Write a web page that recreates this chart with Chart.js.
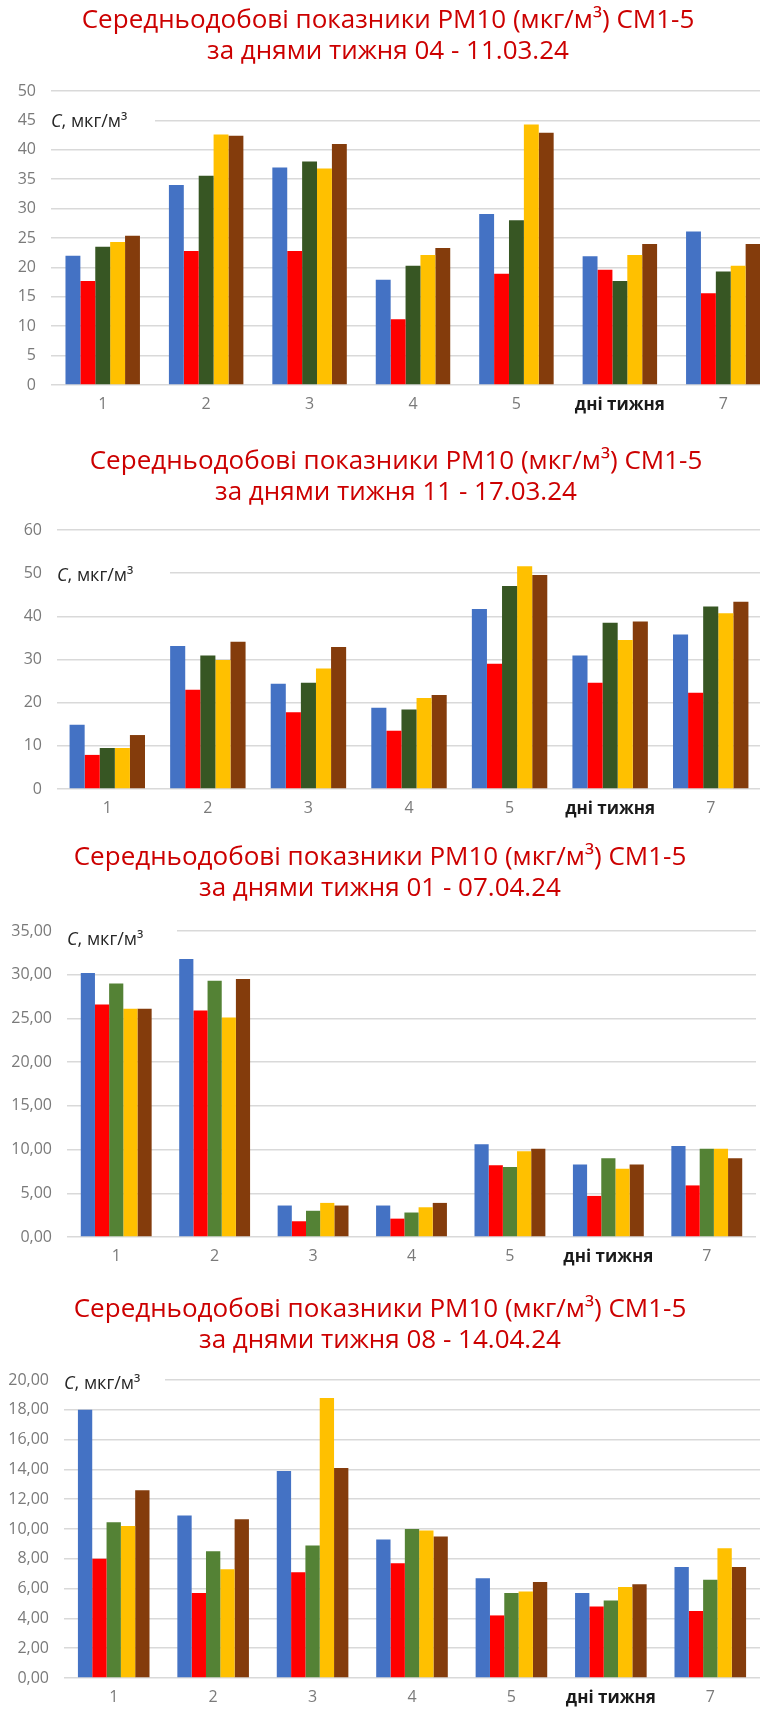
<!DOCTYPE html>
<html>
<head>
<meta charset="utf-8">
<script src="https://cdn.jsdelivr.net/npm/chart.js@4.4.1/dist/chart.umd.min.js"></script>
<style>
  html, body { margin: 0; padding: 0; background: #fff; overflow: hidden; }
  body { width: 760px; height: 1709px; position: relative; }
  .box { position: absolute; left: 0; }
</style>
</head>
<body>
<div class="box" style="top:0px;width:776px;height:418px"><canvas id="c1"></canvas></div>
<div class="box" style="top:418px;width:792px;height:417px"><canvas id="c2"></canvas></div>
<div class="box" style="top:835px;width:760px;height:445px"><canvas id="c3"></canvas></div>
<div class="box" style="top:1280px;width:760px;height:429px"><canvas id="c4"></canvas></div>
<script>
// days of the week (6th label is replaced by the axis caption)
const days = ['1', '2', '3', '4', '5', 'дні тижня', '7'];
const stations = ['СМ1', 'СМ2', 'СМ3', 'СМ4', 'СМ5'];

// 04 - 11.03.24
const w1Blue   = [22.0, 34.0, 37.0, 17.9, 29.1, 21.9, 26.1];
const w1Red    = [17.7, 22.8, 22.8, 11.2, 18.9, 19.6, 15.6];
const w1Green  = [23.5, 35.6, 38.0, 20.3, 28.0, 17.7, 19.3];
const w1Yellow = [24.3, 42.6, 36.8, 22.1, 44.3, 22.1, 20.3];
const w1Brown  = [25.4, 42.4, 41.0, 23.3, 42.9, 24.0, 24.0];

// 11 - 17.03.24
const w2Blue   = [14.9, 33.1, 24.4, 18.8, 41.7, 30.9, 35.8];
const w2Red    = [7.9, 23.0, 17.8, 13.5, 29.0, 24.6, 22.3];
const w2Green  = [9.5, 30.9, 24.6, 18.4, 47.0, 38.5, 42.3];
const w2Yellow = [9.5, 29.9, 27.9, 21.1, 51.6, 34.5, 40.7];
const w2Brown  = [12.5, 34.1, 32.9, 21.8, 49.6, 38.8, 43.4];

// 01 - 07.04.24
const w3Blue   = [30.2, 31.8, 3.6, 3.6, 10.6, 8.3, 10.4];
const w3Red    = [26.6, 25.9, 1.8, 2.1, 8.2, 4.7, 5.9];
const w3Green  = [29.0, 29.3, 3.0, 2.8, 8.0, 9.0, 10.1];
const w3Yellow = [26.1, 25.1, 3.9, 3.4, 9.8, 7.8, 10.1];
const w3Brown  = [26.1, 29.5, 3.6, 3.9, 10.1, 8.3, 9.0];

// 08 - 14.04.24
const w4Blue   = [18.0, 10.9, 13.9, 9.3, 6.7, 5.7, 7.45];
const w4Red    = [8.0, 5.7, 7.1, 7.7, 4.2, 4.8, 4.5];
const w4Green  = [10.45, 8.5, 8.9, 10.0, 5.7, 5.2, 6.6];
const w4Yellow = [10.2, 7.3, 18.8, 9.9, 5.8, 6.1, 8.7];
const w4Brown  = [12.6, 10.65, 14.1, 9.5, 6.45, 6.3, 7.45];

// y axes
const yMax = [50, 60, 35, 20];
const yStep = [5, 10, 5, 2];
const yDecimals = [0, 0, 2, 2];

const titleLine1 = 'Середньодобові показники РМ10 (мкг/м³) СМ1-5';
const periods = ['04 - 11.03.24', '11 - 17.03.24', '01 - 07.04.24', '08 - 14.04.24'];
const unitText = ', мкг/м³';

const FONT = "'Open Sans', sans-serif";

// "C, мкг/м3" label drawn on a white patch over a gridline
const unitLabel = {
  id: 'unitLabel',
  beforeDatasetsDraw(chart, args, opts) {
    const ctx = chart.ctx;
    const a = chart.chartArea;
    const y = chart.scales.y.getPixelForValue(opts.value) + opts.dy;
    ctx.save();
    ctx.fillStyle = '#ffffff';
    ctx.fillRect(a.left, y - 11, opts.boxRight - a.left, 22);
    ctx.fillStyle = '#262626';
    ctx.textBaseline = 'middle';
    ctx.font = 'italic 18px ' + FONT;
    ctx.fillText('C', a.left, y);
    const w = ctx.measureText('C').width;
    ctx.font = '18px ' + FONT;
    ctx.fillText(unitText, a.left + w, y);
    ctx.restore();
  }
};

function makeChart(id, idx, vals, green, opt) {
  const colors = ['#4472C4', '#FF0000', green, '#FFC000', '#843C0C'];
  const ctx = document.getElementById(id).getContext('2d');
  return new Chart(ctx, {
    type: 'bar',
    data: {
      labels: days,
      datasets: vals.map((v, i) => ({
        label: stations[i],
        data: v,
        backgroundColor: colors[i],
        borderWidth: 0,
        barPercentage: 1.0,
        categoryPercentage: opt.catPct
      }))
    },
    options: {
      responsive: true,
      maintainAspectRatio: false,
      animation: false,
      layout: { padding: 0 },
      plugins: {
        legend: { display: false },
        tooltip: { enabled: false },
        title: {
          display: true,
          text: [titleLine1, 'за днями тижня ' + periods[idx]],
          color: '#CC0000',
          font: { family: FONT, size: 26, weight: 500, lineHeight: 31 / 26 },
          padding: { top: opt.titleTop, bottom: opt.titleBottom }
        },
        unitLabel: opt.unit
      },
      scales: {
        x: {
          grid: { display: false, drawTicks: false },
          border: { display: false },
          ticks: {
            padding: 10,
            autoSkip: false,
            maxRotation: 0,
            minRotation: 0,
            color: c => c.index === 5 ? '#1a1a1a' : '#7a7a7a',
            font: c => c.index === 5
              ? { family: FONT, size: 17, weight: 'bold' }
              : { family: FONT, size: 16, weight: 'normal' }
          },
          afterFit: s => { s.height = opt.xHeight; }
        },
        y: {
          min: 0,
          max: yMax[idx],
          grid: { color: '#d9d9d9', lineWidth: 1.5, drawTicks: false },
          border: { display: false },
          ticks: {
            stepSize: yStep[idx],
            padding: 15,
            color: '#7a7a7a',
            font: { family: FONT, size: 16 },
            callback: v => v.toFixed(yDecimals[idx]).replace('.', ',')
          },
          afterFit: s => { s.width = opt.yWidth; }
        },
        // empty right-hand axis, only reserves space so the title stays centred on the canvas
        yr: {
          position: 'right',
          display: opt.padRight > 0,
          grid: { display: false, drawTicks: false },
          border: { display: false },
          ticks: { display: false },
          afterFit: s => { s.width = opt.padRight; }
        }
      }
    },
    plugins: [unitLabel]
  });
}

makeChart('c1', 0, [w1Blue, w1Red, w1Green, w1Yellow, w1Brown], '#375623', {
  catPct: 0.72, padRight: 1, titleTop: 5, titleBottom: 24, xHeight: 33, yWidth: 51,
  unit: { value: 45, dy: 1, boxRight: 155 }
});
makeChart('c2', 1, [w2Blue, w2Red, w2Green, w2Yellow, w2Brown], '#375623', {
  catPct: 0.75, padRight: 31, titleTop: 28, titleBottom: 22, xHeight: 46, yWidth: 57,
  unit: { value: 50, dy: 3, boxRight: 170 }
});
makeChart('c3', 2, [w3Blue, w3Red, w3Green, w3Yellow, w3Brown], '#548235', {
  catPct: 0.72, padRight: 4, titleTop: 7, titleBottom: 27, xHeight: 43, yWidth: 67,
  unit: { value: 35, dy: 9, boxRight: 177 }
});
makeChart('c4', 3, [w4Blue, w4Red, w4Green, w4Yellow, w4Brown], '#548235', {
  catPct: 0.72, padRight: 0, titleTop: 14, titleBottom: 24, xHeight: 31, yWidth: 64,
  unit: { value: 20, dy: 4, boxRight: 165 }
});
</script>
</body>
</html>
